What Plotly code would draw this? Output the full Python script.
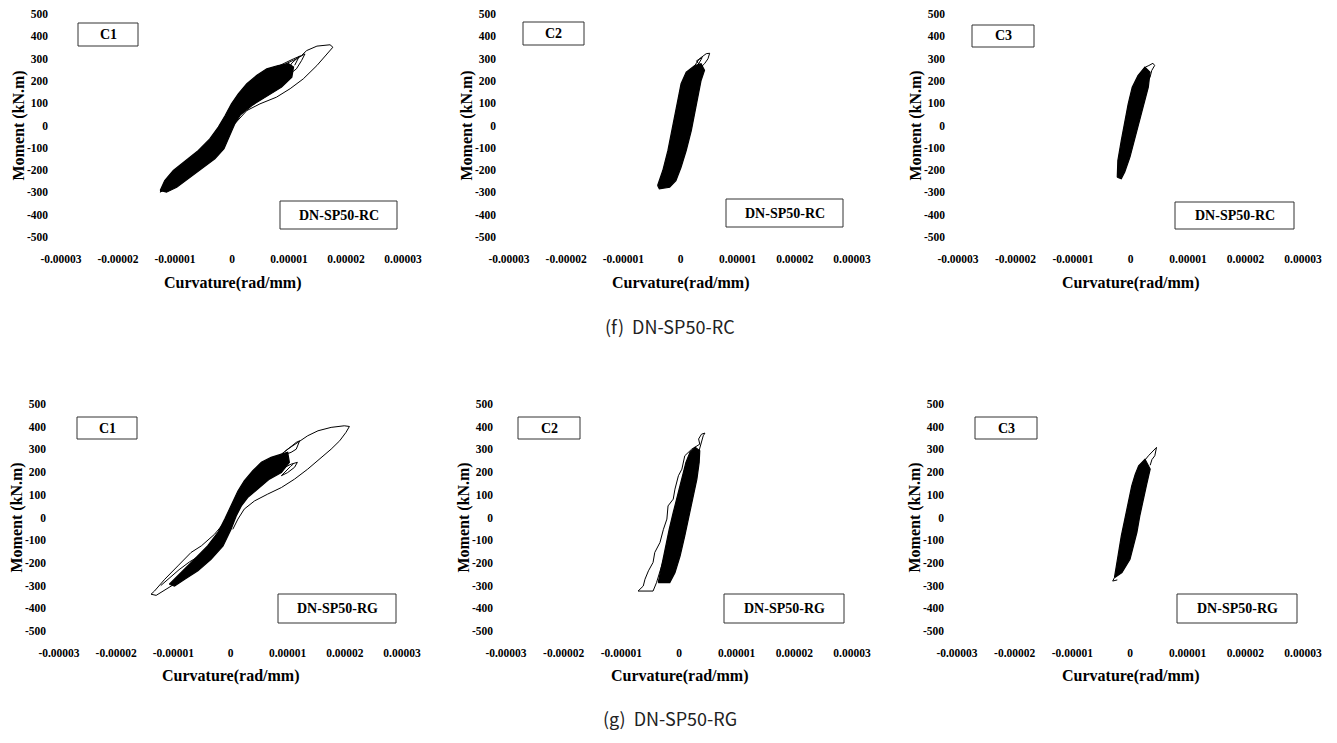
import plotly.graph_objects as go

# ---------------- DATA (curvature in rad/mm, moment in kN.m) ----------------
# (f) DN-SP50-RC, C1
f_c1_band_curv = [-1.26e-5, -1.18e-5, -1.03e-5, -0.82e-5, -0.59e-5, -0.39e-5, -0.24e-5, -0.12e-5, -0.01e-5, 0.11e-5,
                  0.26e-5, 0.43e-5, 0.61e-5, 0.81e-5, 0.99e-5, 1.08e-5, 1.05e-5, 0.87e-5, 0.64e-5, 0.35e-5,
                  0.15e-5, 0.05e-5, -0.04e-5, -0.14e-5, -0.30e-5, -0.50e-5, -0.74e-5, -0.97e-5, -1.15e-5, -1.26e-5]
f_c1_band_moment = [-291, -247, -202, -157, -112, -60, -7, 45, 97, 142,
                    187, 224, 254, 269, 277, 262, 217, 172, 135, 90,
                    48, 8, -45, -104, -149, -187, -232, -277, -299, -291]
f_c1_loop_curv = [0.02e-5, 0.26e-5, 0.49e-5, 0.78e-5, 1.02e-5, 1.25e-5, 1.49e-5, 1.66e-5, 1.77e-5, 1.72e-5,
                  1.49e-5, 1.31e-5, 1.22e-5, 1.08e-5, 0.96e-5, 0.78e-5]
f_c1_loop_moment = [0, 67, 97, 127, 165, 209, 269, 321, 351, 362,
                    356, 336, 314, 299, 284, 262]
f_c1_spike_curv = [0.85e-5, 1.13e-5, 1.28e-5, 1.22e-5, 1.13e-5, 1.02e-5, 0.90e-5, 1.05e-5, 1.18e-5, 1.10e-5]
f_c1_spike_moment = [265, 299, 321, 291, 254, 232, 215, 280, 310, 270]
f_c1_tip_curv = [-1.00e-5, -1.26e-5, -1.22e-5, -1.05e-5, -1.18e-5]
f_c1_tip_moment = [-265, -299, -280, -240, -262]

# (f) DN-SP50-RC, C2
f_c2_band_curv = [-0.40e-5, -0.31e-5, -0.22e-5, -0.16e-5, -0.11e-5, -0.05e-5, 0.01e-5, 0.10e-5, 0.25e-5, 0.36e-5,
                  0.42e-5, 0.36e-5, 0.30e-5, 0.25e-5, 0.19e-5, 0.10e-5, 0.01e-5, -0.08e-5, -0.19e-5, -0.37e-5, -0.40e-5]
f_c2_band_moment = [-269, -202, -112, -37, 37, 112, 187, 239, 269, 277,
                    247, 202, 127, 52, -22, -112, -187, -247, -277, -284, -269]
f_c2_spike_curv = [0.25e-5, 0.33e-5, 0.45e-5, 0.51e-5, 0.48e-5, 0.42e-5, 0.36e-5, 0.28e-5, 0.38e-5, 0.33e-5, 0.27e-5]
f_c2_spike_moment = [269, 299, 322, 324, 299, 277, 262, 290, 305, 280, 255]

# (f) DN-SP50-RC, C3
f_c3_band_curv = [-0.23e-5, -0.22e-5, -0.16e-5, -0.10e-5, -0.04e-5, 0.03e-5, 0.13e-5, 0.25e-5,
                  0.34e-5, 0.31e-5, 0.25e-5, 0.16e-5, 0.07e-5, -0.01e-5, -0.10e-5, -0.16e-5, -0.23e-5]
f_c3_band_moment = [-232, -157, -67, 22, 97, 172, 224, 262,
                    239, 172, 112, 22, -67, -142, -209, -239, -232]
f_c3_spike_curv = [0.20e-5, 0.26e-5, 0.32e-5, 0.39e-5, 0.42e-5, 0.37e-5, 0.34e-5, 0.30e-5]
f_c3_spike_moment = [240, 262, 269, 279, 269, 247, 217, 200]

# (g) DN-SP50-RG, C1
g_c1_band_curv = [-1.07e-5, -0.86e-5, -0.63e-5, -0.40e-5, -0.22e-5, -0.10e-5, 0.01e-5, 0.13e-5, 0.24e-5, 0.39e-5,
                  0.54e-5, 0.71e-5, 0.89e-5, 1.00e-5, 1.03e-5, 0.89e-5, 0.68e-5, 0.48e-5, 0.30e-5, 0.19e-5,
                  0.10e-5, 0.01e-5, -0.13e-5, -0.34e-5, -0.57e-5, -0.80e-5, -0.98e-5, -1.07e-5]
g_c1_band_moment = [-294, -243, -184, -125, -66, -7, 51, 117, 161, 206,
                    243, 265, 279, 287, 243, 198, 169, 125, 88, 51,
                    7, -52, -125, -184, -235, -272, -302, -294]
g_c1_loop_curv = [0.89e-5, 1.00e-5, 1.18e-5, 1.35e-5, 1.53e-5, 1.76e-5, 1.99e-5, 2.08e-5, 2.02e-5, 1.91e-5,
                  1.76e-5, 1.59e-5, 1.35e-5, 1.12e-5, 0.89e-5, 0.65e-5, 0.42e-5, 0.24e-5, 0.13e-5, 0.04e-5]
g_c1_loop_moment = [279, 301, 331, 360, 382, 397, 404, 401, 375, 338,
                    301, 265, 213, 169, 132, 103, 73, 37, -7, -52]
g_c1_tip_curv = [-0.10e-5, -0.28e-5, -0.51e-5, -0.69e-5, -0.92e-5, -1.15e-5, -1.33e-5, -1.39e-5, -1.30e-5, -1.12e-5,
                 -0.98e-5, -0.80e-5]
g_c1_tip_moment = [-20, -74, -125, -154, -213, -272, -324, -338, -343, -316,
                   -294, -265]
g_c1_strand_curv = [-1.22e-5, -1.05e-5, -0.90e-5, -0.72e-5, -0.55e-5, -0.40e-5, -0.25e-5]
g_c1_strand_moment = [-300, -262, -230, -196, -170, -132, -95]
g_c1_spike_a_curv = [0.95e-5, 1.15e-5, 1.21e-5, 1.15e-5, 1.06e-5, 0.98e-5]
g_c1_spike_a_moment = [290, 331, 338, 301, 287, 280]
g_c1_spike_b_curv = [0.89e-5, 1.06e-5, 1.17e-5, 1.12e-5, 1.00e-5, 0.89e-5, 1.05e-5, 1.10e-5]
g_c1_spike_b_moment = [213, 235, 243, 221, 198, 184, 225, 236]

# (g) DN-SP50-RG, C2
g_c2_band_curv = [-0.36e-5, -0.30e-5, -0.25e-5, -0.17e-5, -0.10e-5, -0.03e-5, 0.05e-5, 0.12e-5, 0.19e-5, 0.28e-5,
                  0.36e-5, 0.35e-5, 0.31e-5, 0.25e-5, 0.18e-5, 0.10e-5, 0.02e-5, -0.07e-5, -0.16e-5, -0.36e-5]
g_c2_band_moment = [-287, -213, -140, -52, 22, 95, 169, 243, 287, 309,
                    294, 243, 169, 95, 7, -81, -169, -243, -287, -287]
g_c2_strand_curv = [0.39e-5, 0.34e-5, 0.36e-5, 0.22e-5, 0.10e-5, 0.05e-5, -0.01e-5, -0.07e-5, -0.10e-5, -0.19e-5,
                    -0.21e-5, -0.27e-5, -0.33e-5, -0.42e-5, -0.45e-5, -0.53e-5, -0.59e-5, -0.62e-5, -0.71e-5, -0.45e-5,
                    -0.39e-5, -0.27e-5, -0.16e-5, -0.04e-5, 0.05e-5, 0.13e-5, 0.22e-5, 0.34e-5, 0.42e-5, 0.45e-5, 0.39e-5]
g_c2_strand_moment = [367, 346, 323, 301, 272, 213, 184, 125, 81, 51,
                      -7, -52, -110, -154, -198, -235, -272, -302, -324, -324,
                      -287, -184, -96, -7, 81, 169, 243, 287, 360, 372, 367]

# (g) DN-SP50-RG, C3
g_c3_band_curv = [-0.27e-5, -0.20e-5, -0.15e-5, -0.09e-5, -0.03e-5, 0.03e-5, 0.09e-5, 0.15e-5, 0.26e-5,
                  0.35e-5, 0.29e-5, 0.23e-5, 0.17e-5, 0.12e-5, 0.06e-5, 0.00e-5, -0.14e-5, -0.27e-5]
g_c3_band_moment = [-265, -154, -80, -7, 66, 139, 190, 228, 257,
                    213, 147, 81, 7, -66, -125, -184, -243, -265]
g_c3_spike_curv = [0.25e-5, 0.32e-5, 0.46e-5, 0.43e-5, 0.38e-5, 0.35e-5, None, -0.27e-5, -0.30e-5, -0.22e-5]
g_c3_spike_moment = [250, 272, 309, 272, 255, 230, None, -265, -280, -275]

x_tickvals = [-3e-5, -2e-5, -1e-5, 0, 1e-5, 2e-5, 3e-5]
x_ticktext = ["-0.00003", "-0.00002", "-0.00001", "0", "0.00001", "0.00002", "0.00003"]
y_tickvals = [500, 400, 300, 200, 100, 0, -100, -200, -300, -400, -500]
y_ticktext = ["500", "400", "300", "200", "100", "0", "-100", "-200", "-300", "-400", "-500"]
column_labels = ["C1", "C2", "C3"]
specimen_labels = ["DN-SP50-RC", "DN-SP50-RG"]
captions = ["(f)  DN-SP50-RC", "(g)  DN-SP50-RG"]

# ---------------- LAYOUT GEOMETRY (pixels) ----------------
W, H = 1337, 743
OFF = 8  # page body margin offset
SERIF = "Liberation Serif"

def px(x):
    return (x - OFF) / W

def py(y):
    return 1 - (y - OFF) / H

# panel plot-area rectangles: (left, right, top, bottom) in pixels
panels = [
    (61, 403, 14, 237), (509, 852, 14, 237), (958, 1303, 14, 237),
    (59, 402, 404, 631), (506, 852, 404, 631), (957, 1303, 404, 631),
]
xtitle_y = [283, 283, 283, 676, 676, 676]
col_boxes = [
    (78, 138, 23, 46), (523, 584, 22, 45), (972, 1034, 25, 47),
    (77, 137, 417, 439), (518, 580, 417, 439), (975, 1037, 417, 439),
]
spec_boxes = [
    (280, 397, 201, 229), (726, 843, 199, 227), (1175, 1294, 202, 229),
    (278, 396, 594, 623), (724, 844, 594, 623), (1177, 1297, 594, 623),
]

fig = go.Figure()

panel_traces = [
    [("band", f_c1_band_curv, f_c1_band_moment), ("line", f_c1_loop_curv, f_c1_loop_moment),
     ("line", f_c1_spike_curv, f_c1_spike_moment), ("line", f_c1_tip_curv, f_c1_tip_moment)],
    [("band", f_c2_band_curv, f_c2_band_moment), ("line", f_c2_spike_curv, f_c2_spike_moment)],
    [("band", f_c3_band_curv, f_c3_band_moment), ("line", f_c3_spike_curv, f_c3_spike_moment)],
    [("band", g_c1_band_curv, g_c1_band_moment), ("line", g_c1_loop_curv, g_c1_loop_moment),
     ("line", g_c1_tip_curv, g_c1_tip_moment), ("line", g_c1_strand_curv, g_c1_strand_moment),
     ("line", g_c1_spike_a_curv, g_c1_spike_a_moment), ("line", g_c1_spike_b_curv, g_c1_spike_b_moment)],
    [("band", g_c2_band_curv, g_c2_band_moment), ("line", g_c2_strand_curv, g_c2_strand_moment)],
    [("band", g_c3_band_curv, g_c3_band_moment), ("line", g_c3_spike_curv, g_c3_spike_moment)],
]

layout_axes = {}
annotations = []
shapes = []
for i, (l, r, t, b) in enumerate(panels):
    n = "" if i == 0 else str(i + 1)
    for kind, xs, ys in panel_traces[i]:
        if kind == "band":
            fig.add_trace(go.Scatter(x=xs, y=ys, mode="lines", fill="toself", fillcolor="black",
                                     line=dict(color="black", width=1.2), xaxis="x" + n, yaxis="y" + n,
                                     hoverinfo="skip", showlegend=False))
        else:
            fig.add_trace(go.Scatter(x=xs, y=ys, mode="lines", line=dict(color="black", width=1),
                                     xaxis="x" + n, yaxis="y" + n, connectgaps=False,
                                     hoverinfo="skip", showlegend=False))
    layout_axes["xaxis" + n] = dict(
        domain=[px(l), px(r)], anchor="y" + n, range=[-3e-5, 3e-5], automargin=False,
        tickvals=x_tickvals, ticktext=x_ticktext, showgrid=False, zeroline=False, showline=False,
        ticks="", ticklabelstandoff=13,
        tickfont=dict(family=SERIF, size=11.5, color="black", weight="bold"), fixedrange=True)
    layout_axes["yaxis" + n] = dict(
        domain=[py(b), py(t)], anchor="x" + n, range=[-500, 500], automargin=False,
        tickvals=y_tickvals, ticktext=y_ticktext, showgrid=False, zeroline=False, showline=False,
        ticks="", ticklabelstandoff=12,
        tickfont=dict(family=SERIF, size=11.5, color="black", weight="bold"), fixedrange=True)
    # axis titles
    annotations.append(dict(text="Curvature(rad/mm)", x=px((l + r) / 2), y=py(xtitle_y[i]), xref="paper",
                            yref="paper", showarrow=False, xanchor="center", yanchor="middle",
                            font=dict(family=SERIF, size=16, color="black", weight="bold")))
    annotations.append(dict(text="Moment (kN.m)", x=px(l - 43), y=py((t + b) / 2), xref="paper", yref="paper",
                            showarrow=False, xanchor="center", yanchor="middle", textangle=-90, borderpad=0,
                            font=dict(family=SERIF, size=16, color="black", weight="bold")))
    # label boxes
    for (bl, br, bt, bb), txt in [(col_boxes[i], column_labels[i % 3]), (spec_boxes[i], specimen_labels[i // 3])]:
        shapes.append(dict(type="rect", xref="paper", yref="paper", x0=px(bl), x1=px(br), y0=py(bb), y1=py(bt),
                           line=dict(color="#333333", width=1), fillcolor="white", layer="above"))
        annotations.append(dict(text=txt, x=px((bl + br) / 2), y=py((bt + bb) / 2), xref="paper", yref="paper",
                                showarrow=False, xanchor="center", yanchor="middle",
                                font=dict(family=SERIF, size=14, color="black", weight="bold")))

# row captions
for txt, cy in zip(captions, [326, 718]):
    annotations.append(dict(text=txt, x=px(670), y=py(cy), xref="paper", yref="paper", showarrow=False,
                            xanchor="center", yanchor="middle",
                            font=dict(family="Noto Sans CJK KR", size=18, color="#222222")))

fig.update_layout(
    width=W, height=H, margin=dict(l=0, r=0, t=0, b=0, autoexpand=False),
    paper_bgcolor="white", plot_bgcolor="white",
    annotations=annotations, shapes=shapes, showlegend=False,
    **layout_axes,
)

fig.write_html("out.html")
